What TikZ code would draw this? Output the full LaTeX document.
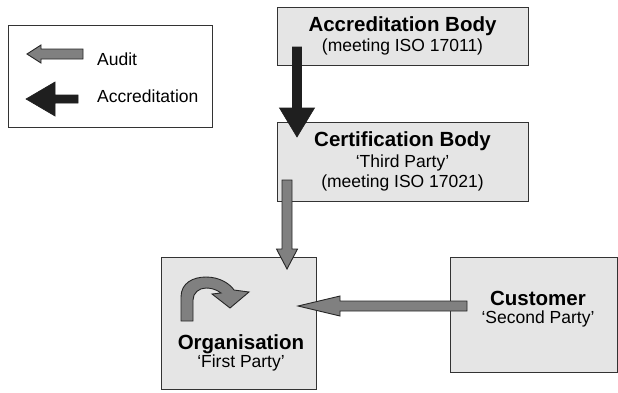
\documentclass[tikz,border=0pt]{standalone}
\usepackage{fontspec}
\setmainfont{Liberation Sans}
\usepackage{tikz}
\usetikzlibrary{positioning,calc}
\newcommand{\titlefont}{\fontsize{20.5}{22}\selectfont\bfseries}
\newcommand{\subfont}{\fontsize{17.5}{20.5}\selectfont}
% block arrow: style, from, to, half shaft, half head, head length
\newcommand{\fatarrow}[6]{%
  \coordinate (fa-h) at ($(#3)!#6!(#2)$);
  \path[#1] ($(#2)!#4!90:(#3)$) -- ($(fa-h)!#4!90:(#3)$) -- ($(fa-h)!#5!90:(#3)$)
    -- (#3) -- ($(fa-h)!#5!-90:(#3)$) -- ($(fa-h)!#4!-90:(#3)$)
    -- ($(#2)!#4!-90:(#3)$) -- cycle;}

\begin{document}
\begin{tikzpicture}[
  x=1pt,y=-1pt,
  font=\subfont,
  %--- node styles ---
  bodybox/.style ={draw=black!80,line width=1pt,fill=black!10,text=black,
                   inner sep=0pt,align=center},
  legendbox/.style={draw=black!80,line width=1pt,fill=white},
  legtext/.style ={anchor=base west,inner sep=0pt,text=black},
  %--- arrow styles ---
  audit/.style   ={fill=black!50,draw=black!85,line width=0.9pt,line join=miter},
  accred/.style  ={fill=black!88,draw=black!88,line width=0.6pt},
  icon/.style    ={fill=black!50,draw=black!85,line width=0.9pt},
]
\useasboundingbox (0,0) rectangle (618,392);

%==================== legend ====================
\draw[legendbox] (8,25) rectangle (212,127);
\coordinate (legAuditEnd) at (83,54);
\coordinate (legAuditTip) at (27,54);
\coordinate (legAccEnd)   at (78,99);
\coordinate (legAccTip)   at (26,99);
\fatarrow{audit}{legAuditEnd}{legAuditTip}{5pt}{9pt}{14pt}
\fatarrow{accred}{legAccEnd}{legAccTip}{4pt}{17pt}{29pt}
\node[legtext] (legAudit) at (97,65)  {Audit};
\node[legtext] (legAcc)   at (97,102) {Accreditation};

%==================== bodies ====================
\node[bodybox,minimum width=251,minimum height=58] (acc) at (402.5,36)
  {{\titlefont Accreditation Body}\\(meeting ISO 17011)};
\node[bodybox,minimum width=251,minimum height=79] (cert) at (402.5,161.5)
  {{\titlefont Certification Body}\\`Third Party'\\(meeting ISO 17021)};
\node[bodybox,minimum width=167,minimum height=115] (cust) at (533.5,314.5) {};
\node[align=center,inner sep=0pt] (custtxt) at (538,309)
  {{\titlefont Customer}\\[-2pt]`Second Party'};
\node[bodybox,minimum width=155,minimum height=132] (org) at (238.5,323) {};
\node[align=center,inner sep=0pt] (orgtxt) at (241,353)
  {{\titlefont Organisation}\\[-3pt]`First Party'};

%==================== self-improvement icon ====================
\path[icon] (181,321) -- (181,297)
  .. controls (181,283) and (193,277) .. (206,277)
  .. controls (220,277) and (230,284) .. (234,290)
  -- (249,292) -- (230,308) -- (212,294) -- (221,293)
  .. controls (216,289) and (210,288) .. (206,288)
  .. controls (199,288) and (193,293) .. (193,300)
  -- (193,321) -- cycle;

%==================== accreditation / audit arrows ====================
\coordinate (accOut)  at (297,47);
\coordinate (certIn)  at (297,137);
\coordinate (certOut) at (287,180);
\coordinate (orgTop)  at (287,269);
\coordinate (custOut) at (467,306);
\coordinate (orgSide) at (298,306);
\fatarrow{accred}{accOut}{certIn}{4.5pt}{17.5pt}{29pt}
\fatarrow{audit}{certOut}{orgTop}{5pt}{10.5pt}{20pt}
\fatarrow{audit}{custOut}{orgSide}{5pt}{10pt}{42pt}

\end{tikzpicture}
\end{document}
